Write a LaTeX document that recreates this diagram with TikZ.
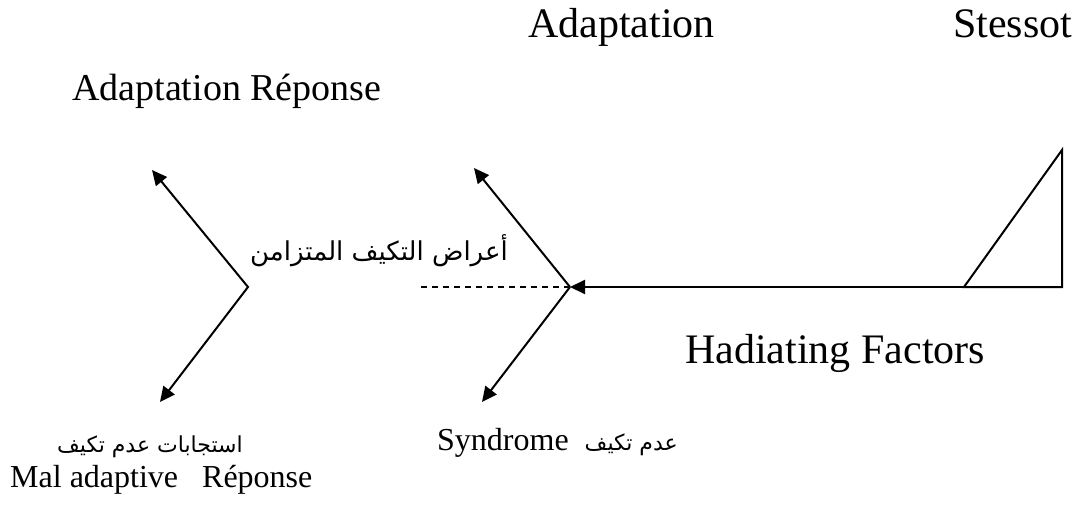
\documentclass[tikz,border=0pt]{standalone}
\usepackage{fontspec}
\setmainfont{Liberation Serif}
\newfontfamily\arabicfont[Script=Arabic]{DejaVu Sans}
\TeXXeTstate=1
\usetikzlibrary{arrows.meta}
\tikzset{
  lbl/.style={inner sep=0pt, anchor=base west},
  big/.style={font=\fontsize{42}{48}\selectfont},
  small/.style={font=\fontsize{32}{38}\selectfont},
  arab/.style={font=\arabicfont\fontsize{#1}{#1}\selectfont},
  tip/.style={Triangle[length=15pt,width=14pt]},
  fork/.style={line width=2pt, -{Triangle[length=15pt,width=14pt]}},
}
\begin{document}
\begin{tikzpicture}[x=1pt,y=-1pt]
  \useasboundingbox (0,0) rectangle (1080,506);
  % points of the diagram
  \coordinate (base) at (964,287);
  \coordinate (corner) at (1062,287);
  \coordinate (apex) at (1062,150);
  \coordinate (mid) at (570,287);
  \coordinate (midup) at (474,168);
  \coordinate (middown) at (482,402);
  \coordinate (dashend) at (420,287);
  \coordinate (left) at (248,287);
  \coordinate (leftup) at (152,170);
  \coordinate (leftdown) at (160,402);
  % triangle, stem and forks
  \draw[line width=2pt] (base) -- (corner) -- (apex) -- cycle;
  \draw[fork] (base) -- (mid);
  \draw[fork] (mid) -- (midup);
  \draw[fork] (mid) -- (middown);
  \draw[line width=1.5pt, dash pattern=on 6pt off 5pt] (mid) -- (dashend);
  \draw[fork, {Triangle[length=15pt,width=14pt]}-{Triangle[length=15pt,width=14pt]}]
    (leftup) -- (left) -- (leftdown);
  % labels
  \node[lbl, big] (adapt) at (528,37) {Adaptation};
  \node[lbl, big] (stress) at (953,37) {Stessot};
  \node[lbl, font=\fontsize{38}{44}\selectfont] (adaptrep) at (72,100) {Adaptation Réponse};
  \node[lbl, big] (factors) at (685,363) {Hadiating Factors};
  \node[lbl, anchor=base east, arab=26] (sync) at (508,260) {\beginR أعراض التكيف المتزامن\endR};
  \node[lbl, anchor=base, arab=22] (malar) at (150,452) {\beginR استجابات عدم تكيف\endR};
  \node[lbl, small] (malrep) at (10,487) {Mal adaptive~~~Réponse};
  \node[lbl, small] (synd) at (437,450) {Syndrome~~{\arabicfont\fontsize{22}{22}\selectfont\beginR عدم تكيف\endR}};
\end{tikzpicture}
\end{document}
